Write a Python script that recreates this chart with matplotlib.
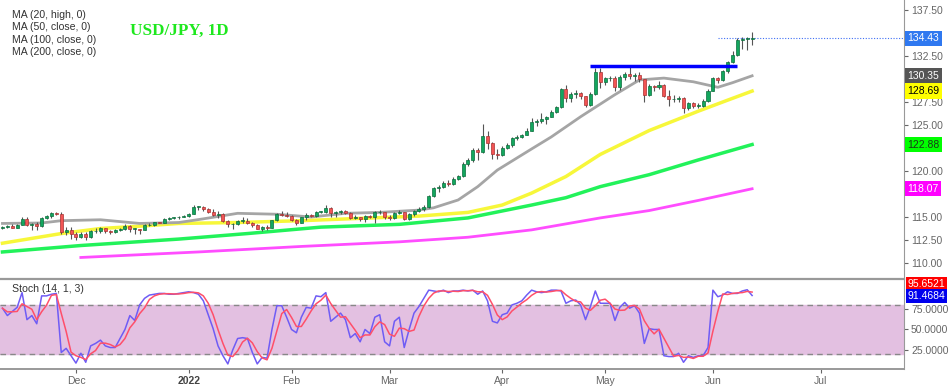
import matplotlib.pyplot as plt
import matplotlib.transforms as mtransforms
import numpy as np
import pandas as pd

# daily bars, USD/JPY
dates = pd.bdate_range("2021-11-10", "2022-06-13")
first_open = 113.85

closes = [
    113.90, 114.05, 113.85, 114.15, 114.80, 114.10, 114.25, 114.00, 114.85, 115.10,
    115.40, 115.35, 113.40, 113.55, 113.15, 112.80, 113.20, 112.80, 113.45, 113.50,
    113.75, 113.50, 113.40, 113.55, 113.70, 114.05, 113.70, 113.70, 113.60, 114.10,
    114.15, 114.45, 114.40, 114.80, 114.85, 114.95, 115.05, 115.10, 115.35, 116.10,
    116.10, 115.85, 115.55, 115.20, 115.30, 114.60, 114.20, 114.20, 114.60, 114.60,
    114.30, 114.10, 113.70, 113.95, 113.85, 114.65, 115.35, 115.25, 115.10, 114.70,
    114.40, 114.95, 115.20, 115.10, 115.55, 115.55, 116.00, 115.45, 115.55, 115.65,
    115.45, 114.90, 115.00, 114.75, 115.10, 115.00, 115.50, 115.55, 114.95, 114.90,
    115.45, 115.50, 114.80, 115.30, 115.70, 115.85, 116.10, 117.30, 118.15, 118.30,
    118.75, 118.60, 119.15, 119.45, 120.80, 121.20, 122.30, 122.05, 123.80, 123.00,
    121.80, 121.70, 122.55, 122.80, 123.60, 123.75, 123.95, 124.35, 125.35, 125.40,
    125.60, 125.90, 126.40, 127.00, 128.90, 127.90, 128.40, 128.50, 128.10, 127.20,
    128.40, 130.80, 129.70, 130.10, 130.15, 129.10, 130.20, 130.55, 130.30, 130.45,
    129.95, 128.30, 129.20, 129.15, 129.35, 128.20, 127.80, 127.85, 127.90, 126.85,
    127.35, 127.10, 127.10, 127.60, 128.70, 130.10, 129.90, 130.85, 131.90, 132.60,
    134.25, 134.35, 134.40, 134.43,
]
highs = [
    114.05, 114.15, 114.20, 114.25, 114.95, 114.95, 114.40, 114.50, 114.95, 115.20,
    115.50, 115.50, 115.50, 113.95, 113.90, 113.40, 113.40, 113.40, 113.60, 113.80,
    113.90, 113.80, 113.60, 113.65, 113.80, 114.25, 114.10, 113.85, 113.70, 114.20,
    114.30, 114.50, 114.50, 114.90, 114.95, 115.05, 115.10, 115.20, 115.40, 116.35,
    116.20, 116.15, 116.00, 115.85, 115.70, 115.40, 114.65, 114.35, 114.70, 115.05,
    114.85, 114.50, 114.20, 114.05, 114.15, 114.70, 115.45, 115.65, 115.55, 115.20,
    114.75, 115.05, 115.40, 115.35, 115.65, 115.70, 116.35, 116.05, 115.70, 115.75,
    115.80, 115.50, 115.20, 115.05, 115.20, 115.25, 115.70, 115.75, 115.55, 115.20,
    115.55, 115.80, 115.55, 115.40, 115.80, 116.10, 116.30, 117.35, 118.30, 118.45,
    118.95, 119.05, 119.40, 119.55, 120.95, 121.40, 122.45, 122.45, 125.10, 124.30,
    123.20, 122.40, 122.70, 123.05, 123.70, 123.95, 124.05, 124.70, 125.75, 125.60,
    126.30, 126.00, 126.60, 127.10, 129.00, 129.40, 128.60, 128.80, 128.60, 128.20,
    128.60, 131.25, 131.20, 130.25, 130.30, 130.35, 130.40, 130.80, 131.35, 130.60,
    130.80, 130.05, 129.50, 129.40, 129.75, 129.50, 128.85, 128.30, 128.10, 128.00,
    127.45, 127.55, 127.35, 127.80, 128.90, 130.20, 130.20, 130.95, 132.00, 133.00,
    134.45, 134.55, 134.55, 135.15,
]
lows = [
    113.70, 113.80, 113.80, 113.80, 114.10, 114.00, 113.60, 113.60, 113.95, 114.75,
    114.90, 115.20, 113.10, 113.00, 112.60, 112.55, 112.70, 112.55, 112.70, 113.30,
    113.30, 113.30, 113.20, 113.30, 113.50, 113.60, 113.40, 113.15, 113.15, 113.55,
    114.00, 114.05, 114.30, 114.35, 114.65, 114.75, 114.80, 114.95, 115.00, 115.30,
    115.80, 115.60, 115.40, 115.10, 114.90, 114.50, 113.95, 113.65, 114.10, 114.40,
    114.20, 113.95, 113.65, 113.50, 113.60, 113.80, 114.60, 115.10, 114.95, 114.60,
    114.15, 114.30, 114.70, 114.95, 115.00, 115.40, 115.40, 115.00, 114.95, 115.30,
    115.30, 114.80, 114.75, 114.60, 114.50, 114.90, 114.40, 115.30, 114.80, 114.70,
    114.80, 115.35, 114.70, 114.65, 115.10, 115.55, 115.70, 116.00, 117.20, 117.70,
    118.10, 118.40, 118.45, 119.00, 119.40, 120.50, 121.00, 121.20, 121.95, 122.40,
    121.30, 121.30, 121.65, 122.40, 122.60, 123.40, 123.60, 123.90, 124.35, 124.90,
    125.20, 125.10, 125.90, 126.35, 126.90, 127.50, 127.50, 127.95, 127.80, 126.95,
    127.10, 128.30, 129.00, 129.40, 129.75, 128.65, 128.80, 129.90, 130.00, 129.80,
    129.70, 127.50, 128.10, 128.70, 128.95, 128.00, 127.05, 127.50, 127.55, 126.35,
    126.60, 126.80, 126.80, 127.00, 127.50, 128.65, 129.60, 129.80, 130.70, 131.70,
    132.50, 133.30, 133.20, 133.70,
]

# moving averages (weekly-ish samples)
ma20_dates = ["2021-11-10", "2021-11-22", "2021-11-26", "2021-12-08", "2021-12-20",
              "2021-12-30", "2022-01-06", "2022-01-17", "2022-01-27", "2022-02-07",
              "2022-02-16", "2022-02-25", "2022-03-09", "2022-03-14", "2022-03-21",
              "2022-03-25", "2022-03-31", "2022-04-11", "2022-04-15", "2022-04-25",
              "2022-05-04", "2022-05-11", "2022-05-18", "2022-05-26", "2022-06-02",
              "2022-06-07", "2022-06-13"]
ma20_vals = [114.3, 114.35, 114.6, 114.7, 114.3, 114.4, 114.8, 115.4, 115.3, 115.0,
             115.4, 115.5, 115.75, 116.0, 116.85, 118.3, 120.1, 122.4, 123.7, 125.9,
             128.3, 129.9, 130.1, 129.7, 129.1, 129.6, 130.35]

ma50_dates = ["2021-11-10", "2021-11-26", "2021-12-08", "2021-12-20", "2021-12-30",
              "2022-01-17", "2022-02-03", "2022-02-21", "2022-03-09", "2022-03-23",
              "2022-04-01", "2022-04-11", "2022-04-20", "2022-04-29", "2022-05-13",
              "2022-05-27", "2022-06-06", "2022-06-13"]
ma50_vals = [112.15, 113.2, 113.75, 114.0, 114.3, 114.4, 114.6, 114.85, 115.1, 115.5,
             116.3, 117.6, 119.4, 121.8, 124.4, 126.5, 127.7, 128.69]

ma100_dates = ["2021-11-10", "2021-12-02", "2021-12-30", "2022-01-19", "2022-02-09",
               "2022-03-03", "2022-03-23", "2022-04-11", "2022-04-20", "2022-04-29",
               "2022-05-13", "2022-05-27", "2022-06-13"]
ma100_vals = [111.2, 111.9, 112.6, 113.2, 113.9, 114.2, 114.9, 116.3, 117.1, 118.3,
              119.6, 121.2, 122.88]

ma200_dates = ["2021-12-02", "2022-01-05", "2022-02-03", "2022-03-03", "2022-03-23",
               "2022-04-11", "2022-04-29", "2022-05-13", "2022-05-27", "2022-06-13"]
ma200_vals = [110.6, 111.2, 111.8, 112.3, 112.8, 113.6, 114.9, 115.7, 116.8, 118.07]

resistance = 131.45
resistance_from, resistance_to = "2022-04-27", "2022-06-08"

# Stoch (14, 1, 3) %K
stoch_k = [
    76, 67, 72, 77, 95, 62, 67, 57, 91, 91, 93, 94, 22, 27, 18, 9, 21, 10, 30, 33,
    37, 30, 28, 28, 39, 50, 67, 61, 80, 88, 92, 93, 94, 94, 93, 93, 94, 95, 96, 95,
    93, 85, 68, 51, 30, 18, 8, 25, 39, 40, 39, 22, 8, 16, 15, 50, 79, 79, 65, 50,
    46, 65, 77, 76, 91, 90, 95, 60, 65, 70, 62, 40, 45, 35, 50, 45, 65, 68, 35, 30,
    60, 65, 28, 50, 70, 78, 88, 98, 97, 96, 98, 95, 97, 97, 98, 97, 98, 93, 97, 85,
    60, 58, 68, 70, 80, 82, 85, 92, 98, 96, 95, 96, 98, 98, 97, 82, 85, 86, 80, 62,
    78, 97, 82, 82, 82, 61, 77, 83, 76, 79, 70, 33, 51, 50, 50, 18, 17, 17, 21, 10,
    18, 16, 18, 18, 28, 98, 90, 92, 96, 94, 94, 97, 98.4879, 91.4684,
]

month_starts = ["2021-12-01", "2022-01-01", "2022-02-01", "2022-03-01",
                "2022-04-01", "2022-05-01", "2022-06-01", "2022-07-01"]
month_labels = ["Dec", "2022", "Feb", "Mar", "Apr", "May", "Jun", "Jul"]

plt.rcParams['font.family'] = ['Liberation Sans', 'DejaVu Sans']

opens = [first_open] + closes[:-1]
o = np.array(opens)
c = np.array(closes)
h = np.array(highs)
l = np.array(lows)
x = np.arange(len(dates))
axis_days = pd.bdate_range("2021-11-10", "2022-07-29")


def pos(day_list):
    return axis_days.searchsorted(pd.to_datetime(day_list))


fig = plt.figure(figsize=(9.5, 3.86), dpi=100)
ax = fig.add_axes([0, 1 - 279 / 386, 904 / 950, 279 / 386])
ax2 = fig.add_axes([0, 1 - 369 / 386, 904 / 950, 90 / 386], sharex=ax)

# moving averages
ax.plot(pos(ma200_dates), ma200_vals, color='#ff4dff', lw=2, zorder=2)
ax.plot(pos(ma100_dates), ma100_vals, color='#22f25a', lw=2.5, zorder=2)
ax.plot(pos(ma50_dates), ma50_vals, color='#f7f73a', lw=2.5, zorder=2)
ax.plot(pos(ma20_dates), ma20_vals, color='#a5a5a5', lw=2, zorder=2)

# candles
up = c >= o
ax.vlines(x, l, h, color='#555555', lw=0.8, zorder=3)
body_lo = np.minimum(o, c)
body_h = np.maximum(np.abs(c - o), 0.06)
ax.bar(x[up], body_h[up], bottom=body_lo[up], width=0.62,
       color='#13a65e', edgecolor='#0b6e3c', lw=0.5, zorder=4)
ax.bar(x[~up], body_h[~up], bottom=body_lo[~up], width=0.62,
       color='#f25454', edgecolor='#a83232', lw=0.5, zorder=4)

# resistance and last price line
r0, r1 = pos([resistance_from, resistance_to])
ax.hlines(resistance, r0, r1, color='#0000ff', lw=2.5, zorder=5)
ax.hlines(closes[-1], x[-1] - 7, 184, color='#3f6ff5', lw=0.8,
          linestyles=(0, (1, 1.5)), zorder=1)

ax.set_xlim(-0.5, 184)
ax.set_ylim(108.26, 138.59)
ax.yaxis.tick_right()
price_ticks = np.arange(110, 138, 2.5)
ax.set_yticks(price_ticks)
# labels that sit under the coloured value tags are left blank
covered = [135.0, 130.0, 122.5, 117.5]
ax.set_yticklabels(["" if v in covered else f"{v:.2f}" for v in price_ticks])
ax.tick_params(axis='y', labelsize=7.5, colors='#666666', length=3, pad=2)
ax.tick_params(axis='x', bottom=False, labelbottom=False)
for s in ['top', 'left', 'bottom']:
    ax.spines[s].set_visible(False)
ax.spines['right'].set_color('#999999')

trans = mtransforms.blended_transform_factory(ax.transAxes, ax.transData)
price_tags = [(closes[-1], '#2f78f0', 'white'), (ma20_vals[-1], '#555555', 'white'),
              (ma50_vals[-1], '#ffff00', 'black'), (ma100_vals[-1], '#00ff00', '#1a3a1a'),
              (ma200_vals[-1], '#ff00ff', 'white')]
for val, bg, fg in price_tags:
    ax.text(1.004, val, f"{val:.2f}", transform=trans, fontsize=7.5, color=fg,
            va='center', ha='left', clip_on=False, zorder=10,
            bbox=dict(boxstyle='square,pad=0.25', fc=bg, ec='none'))

for i, t in enumerate(["MA (20, high, 0)", "MA (50, close, 0)",
                       "MA (100, close, 0)", "MA (200, close, 0)"]):
    fig.text(12 / 950, 1 - (15 + 12.4 * i) / 386, t, fontsize=7.6,
             color='#333333', va='center')
fig.text(130 / 950, 1 - 31 / 386, "USD/JPY, 1D", fontsize=12.3, fontweight='bold',
         family=['Liberation Serif', 'DejaVu Serif'], color='#1ee81e', va='center')

# stochastic
k = pd.Series(stoch_k)
d = k.rolling(3, min_periods=1).mean()
ax2.axhspan(20, 80, color='#e3c0e1', zorder=0)
ax2.axhline(80, color='#888888', lw=1, ls=(0, (4, 3)), zorder=1)
ax2.axhline(20, color='#888888', lw=1, ls=(0, (4, 3)), zorder=1)
ax2.plot(x, k, color='#6f5cf5', lw=1.1, zorder=3)
ax2.plot(x, d, color='#ff4f6a', lw=1.1, zorder=3)
ax2.set_ylim(1.8, 111.6)
ax2.yaxis.tick_right()
ax2.set_yticks([25, 50, 75])
ax2.set_yticklabels(["25.0000", "50.0000", "75.0000"])
ax2.tick_params(axis='y', labelsize=7.5, colors='#666666', length=3, pad=2)
ax2.set_xticks(pos(month_starts))
ax2.set_xticklabels(month_labels)
ax2.tick_params(axis='x', labelsize=7.5, colors='#666666', length=3, pad=2)
for lab in ax2.get_xticklabels():
    if lab.get_text() == "2022":
        lab.set_fontweight('bold')
        lab.set_color('#444444')
ax2.spines['left'].set_visible(False)
for s in ['top', 'bottom', 'right']:
    ax2.spines[s].set_color('#999999')
ax2.spines['top'].set_linewidth(1.6)
ax2.spines['bottom'].set_linewidth(1.4)
ax2.text(0.013, 0.89, "Stoch (14, 1, 3)", transform=ax2.transAxes, fontsize=7.6,
         color='#333333', va='center')

trans2 = mtransforms.blended_transform_factory(ax2.transAxes, ax2.transData)
ax2.text(1.004, 105.5, f"{d.iloc[-1]:.4f}", transform=trans2, fontsize=7.5,
         color='white', va='center', ha='left', clip_on=False, zorder=10,
         bbox=dict(boxstyle='square,pad=0.2', fc='#ff0000', ec='none'))
ax2.text(1.004, 90.9, f"{stoch_k[-1]:.4f}", transform=trans2, fontsize=7.5,
         color='white', va='center', ha='left', clip_on=False, zorder=10,
         bbox=dict(boxstyle='square,pad=0.2', fc='#0000ee', ec='none'))

fig.savefig("out.png", dpi=100)
